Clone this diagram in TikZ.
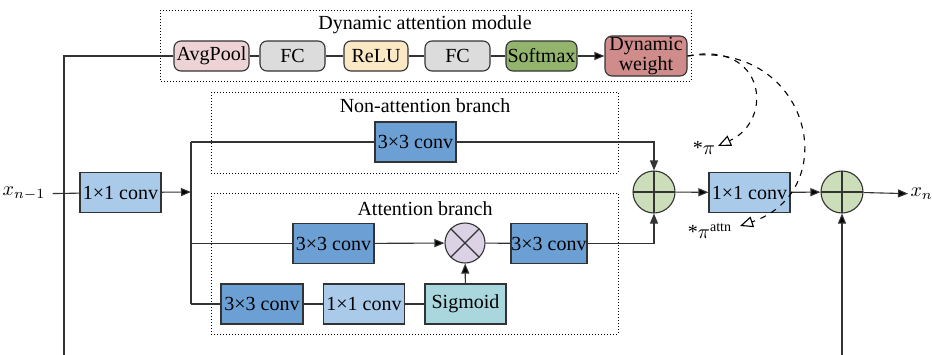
\documentclass[tikz,border=0pt]{standalone}
\usepackage{fontspec}
\setmainfont{Liberation Serif}
\usetikzlibrary{arrows.meta,positioning}

\definecolor{poolpink}{HTML}{EDD3D5}
\definecolor{fcgrey}{HTML}{DCDCDD}
\definecolor{relucream}{HTML}{FBE8C4}
\definecolor{softgreen}{HTML}{93B46C}
\definecolor{weightred}{HTML}{D08B8B}
\definecolor{convdark}{HTML}{6C9FD4}
\definecolor{convlight}{HTML}{AACAEA}
\definecolor{sigteal}{HTML}{A9D7DD}
\definecolor{prodlilac}{HTML}{DBD3E5}
\definecolor{sumgreen}{HTML}{CCDDB9}
\definecolor{edgegrey}{HTML}{333333}

\begin{document}
\begin{tikzpicture}
	[x=0.5pt,y=-0.5pt,line width=0.55pt,font=\rmfamily\fontsize{10}{11}\selectfont,
	box/.style={shape=rectangle,draw=edgegrey,inner sep=0pt,minimum width=40.5pt,minimum height=20pt},
	dyn node/.style={box,rounded corners=3.5pt,minimum width=32.5pt,minimum height=15pt},
	dark conv/.style={box,fill=convdark},
	light conv/.style={box,fill=convlight},
	sum node/.style={shape=circle,draw=edgegrey,fill=sumgreen,minimum size=21pt,inner sep=0pt,
		path picture={\draw[line width=0.9pt] (path picture bounding box.north) -- (path picture bounding box.south)
			(path picture bounding box.west) -- (path picture bounding box.east);}},
	prod node/.style={shape=circle,draw=edgegrey,fill=prodlilac,minimum size=20pt,inner sep=0pt,
		path picture={\draw[line width=0.6pt] (path picture bounding box.north west) -- (path picture bounding box.south east)
			(path picture bounding box.south west) -- (path picture bounding box.north east);}},
	group/.style={draw,densely dotted,line width=0.5pt},
	arr/.style={-{Triangle[length=5pt,width=4pt]}},
	soft arr/.style={dashed,-{Triangle[open,length=6.5pt,width=5.5pt]}}
	]
	
	\useasboundingbox (0,0) rectangle (932,354);
	
	% dynamic attention module
	\draw[group] (160,10) rectangle (691,81);
	\node (t1) at (425,25) {Dynamic attention module};
	\node [dyn node,fill=poolpink,minimum width=37.5pt] (1) at (211.5,56) {AvgPool};
	\node [dyn node,fill=fcgrey] (2) at (292.5,56) {FC};
	\node [dyn node,fill=relucream,minimum width=32pt] (3) at (376,56) {ReLU};
	\node [dyn node,fill=fcgrey] (4) at (457.5,56) {FC};
	\node [dyn node,fill=softgreen,minimum width=35.5pt] (5) at (541.5,56) {Softmax};
	\node [dyn node,fill=weightred,minimum width=41pt,minimum height=20pt,align=center,
		font=\rmfamily\fontsize{10}{9}\selectfont] (6) at (646,56) {Dynamic\\weight};
	
	% branches
	\draw[group] (211,92) rectangle (618,173);
	\node (t2) at (425,106) {Non-attention branch};
	\draw[group] (211,193) rectangle (618,334);
	\node (t3) at (425,209) {Attention branch};
	
	\node (8) at (24,194) {$x_{n-1}$};
	\node [light conv] (9) at (120.5,192.5) {1×1 conv};
	\node [dark conv] (7) at (415.5,142) {3×3 conv};
	\node [dark conv] (10) at (333.5,243.5) {3×3 conv};
	\node [prod node] (11) at (465,243) {};
	\node [dark conv,minimum width=38pt] (12) at (549,243.5) {3×3 conv};
	\node [dark conv,minimum width=41pt] (13) at (262,304) {3×3 conv};
	\node [light conv] (14) at (364,304) {1×1 conv};
	\node [box,fill=sigteal] (15) at (465.5,304) {Sigmoid};
	
	\node [sum node] (16) at (654,192) {};
	\node [light conv] (17) at (749.5,192.5) {1×1 conv};
	\node [sum node] (18) at (842,192) {};
	\node [anchor=west,inner sep=1pt] (19) at (908,194) {$x_n$};
	
	\node (20) at (704,148) {*$\pi$};
	\node (21) at (710,231) {*$\pi^{\mathrm{attn}}$};
	
	\coordinate (a) at (64,56);
	\coordinate (b) at (64,356);
	\coordinate (s) at (191,192);
	\coordinate (st) at (191,142);
	\coordinate (sb) at (191,304);
	\coordinate (c) at (842,356);
	\coordinate (p1) at (718,146);
	\coordinate (p2) at (740,226);
	
	\path[draw=edgegrey]
	(1.west) -- (a) -- (b)
	(1) edge node {} (2)
	(2) edge node {} (3)
	(3) edge node {} (4)
	(4) edge node {} (5)
	(8) edge node {} (9)
	(st) edge node {} (sb)
	(st) edge node {} (7)
	(10.west -| st) edge node {} (10)
	(sb) edge node {} (13)
	(11) edge node {} (12)
	(13) edge node {} (14)
	(14) edge node {} (15)
	;
	
	\path[arr,draw=edgegrey]
	(5) edge node {} (6)
	(9) edge node {} (s)
	(10) edge node {} (11)
	(15) edge node {} (11)
	(16) edge node {} (17)
	(17) edge node {} (18)
	(18) edge node {} (19)
	(c) edge node {} (18)
	;
	\draw[arr,draw=edgegrey] (7.east) -| (16.north);
	\draw[arr,draw=edgegrey] (12.east) -| (16.south);
	
	\draw[soft arr] (6.east) .. controls (765,40) and (775,120) .. (p1);
	\draw[soft arr] (6.east) .. controls (810,40) and (845,190) .. (p2);
	
\end{tikzpicture}
\end{document}
